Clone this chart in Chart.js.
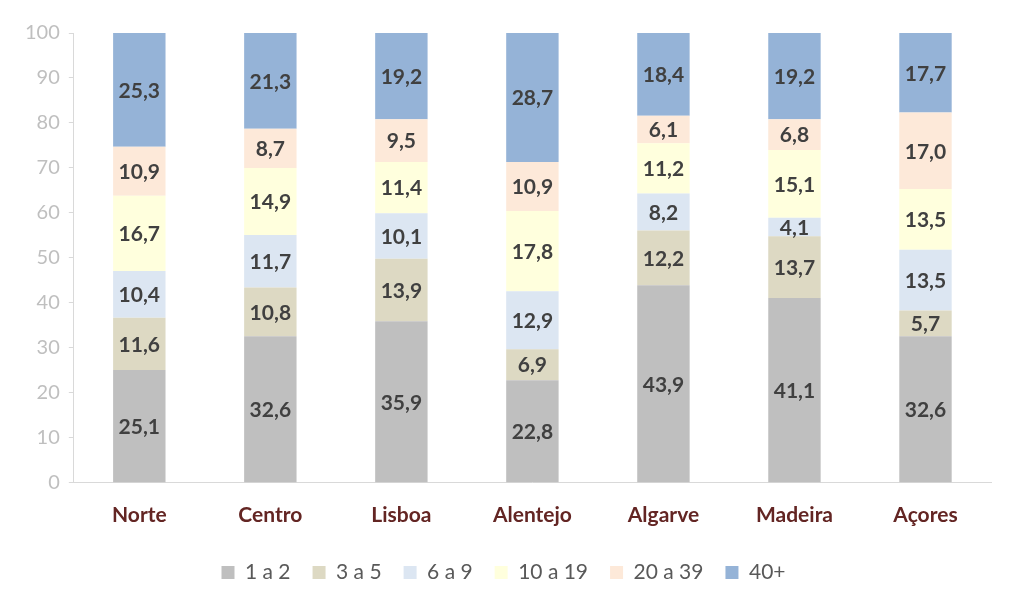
<!DOCTYPE html>
<html>
<head>
<meta charset="utf-8">
<script src="https://cdn.jsdelivr.net/npm/chart.js@4.4.0/dist/chart.umd.min.js"></script>
<style>
  html, body { margin: 0; padding: 0; background: #fff; }
  #wrap { width: 1023px; height: 596px; position: relative; }
</style>
</head>
<body>
<div id="wrap"><canvas id="myChart"></canvas></div>
<script>
var regions = ["Norte", "Centro", "Lisboa", "Alentejo", "Algarve", "Madeira", "Açores"];
var seriesNames = ["1 a 2", "3 a 5", "6 a 9", "10 a 19", "20 a 39", "40+"];
var s1a2 = [25.1, 32.6, 35.9, 22.8, 43.9, 41.1, 32.6];
var s3a5 = [11.6, 10.8, 13.9, 6.9, 12.2, 13.7, 5.7];
var s6a9 = [10.4, 11.7, 10.1, 12.9, 8.2, 4.1, 13.5];
var s10a19 = [16.7, 14.9, 11.4, 17.8, 11.2, 15.1, 13.5];
var s20a39 = [10.9, 8.7, 9.5, 10.9, 6.1, 6.8, 17.0];
var s40 = [25.3, 21.3, 19.2, 28.7, 18.4, 19.2, 17.7];
var colors = ["#BFBFBF", "#DDD9C3", "#DCE6F2", "#FFFFDD", "#FDE9D9", "#95B3D7"];

var allSeries = [s1a2, s3a5, s6a9, s10a19, s20a39, s40];
var datasets = allSeries.map(function (vals, i) {
  return {
    label: seriesNames[i],
    data: vals,
    backgroundColor: colors[i],
    borderWidth: 0,
    barPercentage: 0.8,
    categoryPercentage: 0.5
  };
});

// data labels in the middle of each segment, decimal comma
var segmentLabels = {
  id: "segmentLabels",
  afterDatasetsDraw: function (chart) {
    var ctx = chart.ctx;
    ctx.save();
    ctx.font = "bold 21px Lato";
    ctx.fillStyle = "#404040";
    ctx.textAlign = "center";
    ctx.textBaseline = "middle";
    chart.data.datasets.forEach(function (ds, i) {
      chart.getDatasetMeta(i).data.forEach(function (bar, j) {
        var yMid = (bar.y + bar.base) / 2;
        ctx.fillText(ds.data[j].toFixed(1).replace(".", ","), bar.x, yMid + 1);
      });
    });
    ctx.restore();
  }
};

new Chart(document.getElementById("myChart").getContext("2d"), {
  type: "bar",
  data: { labels: regions, datasets: datasets },
  plugins: [segmentLabels],
  options: {
    responsive: true,
    maintainAspectRatio: false,
    animation: false,
    layout: { padding: { left: 16, right: 32, top: 33, bottom: 3 } },
    plugins: {
      tooltip: { enabled: false },
      legend: {
        position: "bottom",
        labels: {
          boxWidth: 13,
          boxHeight: 13,
          padding: 22,
          color: "#595959",
          font: { family: "Lato", size: 21 }
        }
      }
    },
    scales: {
      x: {
        stacked: true,
        grid: { display: false },
        border: { color: "#D9D9D9", width: 1 },
        ticks: {
          color: "#632523",
          padding: 12,
          font: { family: "Lato", size: 21, weight: "bold" }
        }
      },
      y: {
        stacked: true,
        min: 0,
        max: 100,
        ticks: {
          stepSize: 10,
          color: "#BFBFBF",
          padding: 9,
          font: { family: "Lato", size: 20 }
        },
        grid: {
          drawOnChartArea: false,
          drawTicks: true,
          tickLength: 5,
          color: "#D9D9D9"
        },
        border: { color: "#D9D9D9", width: 1 }
      }
    }
  }
});
</script>
</body>
</html>
